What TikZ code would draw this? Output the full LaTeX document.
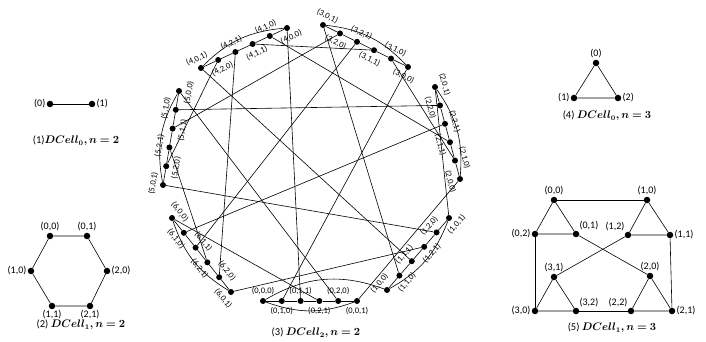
\documentclass[tikz,border=0pt]{standalone}
\usepackage{amsmath,bm}
\usepackage{fontspec}
\setmainfont{Carlito}
\usetikzlibrary{calc,positioning}

\begin{document}
\begin{tikzpicture}[x=1pt,y=1pt,
    vtx/.style={circle,fill,inner sep=0pt,minimum size=6.5pt},
    lbl/.style={font=\fontsize{10}{12}\selectfont,inner sep=1pt},
    slbl/.style={font=\fontsize{8.5}{10}\selectfont,inner sep=0pt},
    captxt/.style={font=\fontsize{10.5}{12}\selectfont},
    link/.style={line width=0.6pt}]
  \useasboundingbox (0,0) rectangle (706,342);

  % (1) DCell_0, n=2
  \node[vtx,label={[lbl]left:{(0)}}] (a0) at (50,238) {};
  \node[vtx,label={[lbl]right:{(1)}}] (a1) at (92,238) {};
  \draw[link] (a0) -- (a1);
  \node[captxt] (capa) at (76,201) {(1)$\bm{DCell_0, n=2}$};

  % (2) DCell_1, n=2
  \node[vtx,label={[lbl]above:{(0,0)}}] (b00) at (50,106) {};
  \node[vtx,label={[lbl]above:{(0,1)}}] (b01) at (87,106) {};
  \node[vtx,label={[lbl]right:{(2,0)}}] (b20) at (107,71) {};
  \node[vtx,label={[lbl]below:{(2,1)}}] (b21) at (90,36) {};
  \node[vtx,label={[lbl]below:{(1,1)}}] (b11) at (52,36) {};
  \node[vtx,label={[lbl]left:{(1,0)}}] (b10) at (31,71) {};
  \draw[link] (b00) -- (b01) -- (b20) -- (b21) -- (b11) -- (b10) -- (b00);
  \node[captxt] (capb) at (81,17) {(2) $\bm{DCell_1, n=2}$};

  % (3) DCell_2, n=2 : seven DCell_1 rows round the ring
  \foreach \g/\sx/\sy/\ex/\ey in {0/263/41/357/41, 1/387/52/449/124,
      2/460/163/435/255, 3/408/275/323/317, 4/287/314/201/274,
      5/179/251/163/157, 6/172/124/231/50} {
    \pgfmathsetmacro\ang{atan2(\ey-\sy,\ex-\sx)}
    \pgfmathsetmacro\len{veclen(\ex-\sx,\ey-\sy)/5}
    \pgfmathsetmacro\tang{\ang>90 ? \ang-180 : (\ang<-90 ? \ang+180 : \ang)}
    \begin{scope}[shift={(\sx,\sy)},rotate=\ang]
      \foreach \k/\a/\b in {0/0/0,1/1/0,2/1/1,3/2/1,4/2/0,5/0/1} {
        \pgfmathsetmacro\side{mod(\k,2)==0 ? 10 : -10}
        \node[vtx,minimum size=6pt] (v\g\a\b) at (\k*\len,0) {};
        \node[slbl,rotate=\tang] (t\g\a\b) at (\k*\len,\side) {(\g,\a,\b)};
      }
    \end{scope}
    \draw[link] (v\g00) -- (v\g10) -- (v\g11) -- (v\g21) -- (v\g20) -- (v\g01);
    \draw[link] (v\g00) to[bend right=20] (v\g01);
  }
  \draw[link] (v000) to[bend left=25] (v100);
  \foreach \p/\q in {001/200, 010/300, 011/400, 020/500, 021/600,
      101/201, 110/301, 111/401, 120/501, 121/601,
      210/310, 211/410, 220/510, 221/610,
      311/411, 320/511, 321/611, 420/520, 421/620, 521/621}
    \draw[link] (v\p) -- (v\q);
  \node[captxt] (capc) at (316,9) {(3) $\bm{DCell_2, n=2}$};

  % (4) DCell_0, n=3
  \node[vtx,label={[lbl]above:{(0)}}] (c0) at (596,279) {};
  \node[vtx,label={[lbl]left:{(1)}}] (c1) at (574,244) {};
  \node[vtx,label={[lbl]right:{(2)}}] (c2) at (618,244) {};
  \draw[link] (c0) -- (c1) -- (c2) -- (c0);
  \node[captxt] (capd) at (607,226) {(4) $\bm{DCell_0, n=3}$};

  % (5) DCell_1, n=3
  \node[vtx,label={[lbl]above:{(0,0)}}] (d00) at (554,142) {};
  \node[vtx,label={[lbl]above right:{(0,1)}}] (d01) at (576,108) {};
  \node[vtx,label={[lbl]left:{(0,2)}}] (d02) at (535,108) {};
  \node[vtx,label={[lbl]above:{(1,0)}}] (d10) at (647,142) {};
  \node[vtx,label={[lbl]above left:{(1,2)}}] (d12) at (628,107) {};
  \node[vtx,label={[lbl]right:{(1,1)}}] (d11) at (670,107) {};
  \node[vtx,label={[lbl]above:{(2,0)}}] (d20) at (650,66) {};
  \node[vtx,label={[lbl]above left:{(2,2)}}] (d22) at (631,31) {};
  \node[vtx,label={[lbl]right:{(2,1)}}] (d21) at (672,31) {};
  \node[vtx,label={[lbl]above:{(3,1)}}] (d31) at (554,65) {};
  \node[vtx,label={[lbl]left:{(3,0)}}] (d30) at (535,31) {};
  \node[vtx,label={[lbl]above right:{(3,2)}}] (d32) at (576,31) {};
  \draw[link] (d00) -- (d01) -- (d02) -- (d00);
  \draw[link] (d10) -- (d11) -- (d12) -- (d10);
  \draw[link] (d20) -- (d21) -- (d22) -- (d20);
  \draw[link] (d30) -- (d31) -- (d32) -- (d30);
  \draw[link] (d00) -- (d10);
  \draw[link] (d01) -- (d20);
  \draw[link] (d02) -- (d30);
  \draw[link] (d11) -- (d21);
  \draw[link] (d12) -- (d31);
  \draw[link] (d22) -- (d32);
  \node[captxt] (cape) at (612,14) {(5) $\bm{DCell_1, n=3}$};
\end{tikzpicture}
\end{document}
